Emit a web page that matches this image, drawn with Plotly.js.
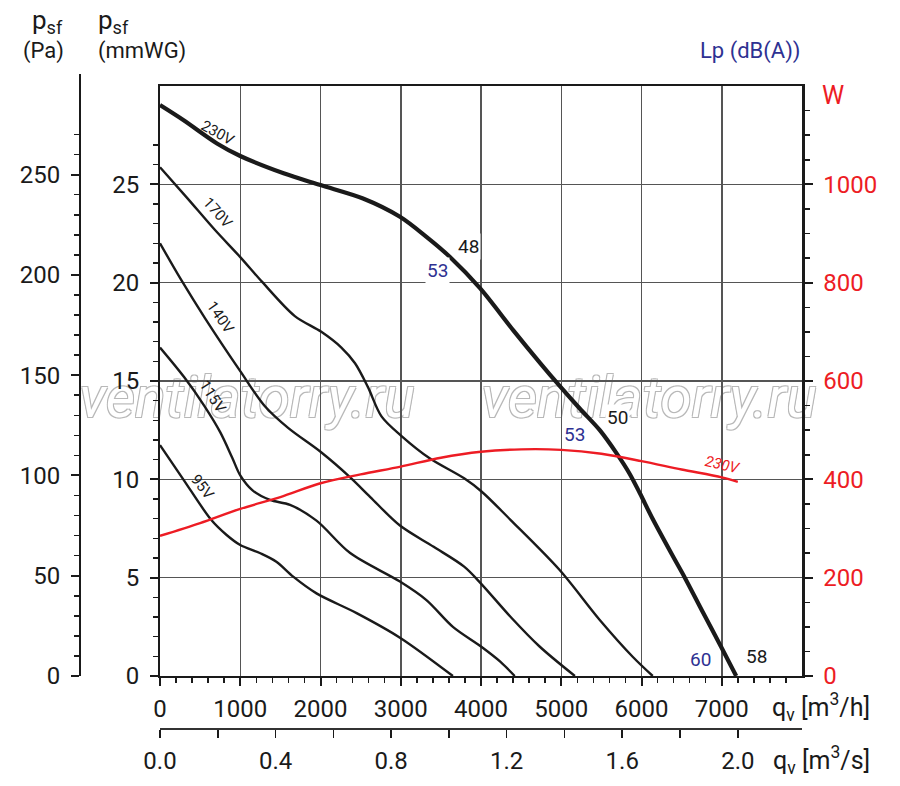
<!DOCTYPE html>
<html><head><meta charset="utf-8">
<script src="https://cdn.plot.ly/plotly-3.0.1.min.js"></script>
<style>html,body{margin:0;padding:0;background:#fff}</style>
</head><body><div id="chart" style="width:900px;height:786px"></div>
<script>
// ---- data (flow in m3/h, pressure in mmWG, power in W) ----
const flow230 = [0, 290, 710, 1000, 1540, 2000, 2530, 2990, 3320, 3610, 3990, 4400, 4740, 4980, 5230, 5480, 5690, 5850, 5980, 6140, 6390, 6540, 6770, 6990, 7180];
const p230    = [29.03, 28.27, 27.08, 26.44, 25.56, 24.96, 24.28, 23.35, 22.33, 21.32, 19.71, 17.59, 15.9, 14.75, 13.6, 12.5, 11.32, 10.3, 9.29, 7.98, 6.1, 5.0, 3.2, 1.5, 0];
const flow170 = [0, 340, 680, 1000, 1270, 1680, 2010, 2260, 2430, 2590, 2760, 3010, 3360, 3790, 4010, 4370, 4980, 5480, 5890, 6140];
const p170    = [25.87, 24.3, 22.7, 21.3, 20.05, 18.3, 17.5, 16.7, 15.9, 14.7, 13.2, 12.2, 11.07, 10.05, 9.37, 7.93, 5.39, 2.85, 0.98, 0];
const flow140 = [0, 270, 560, 1000, 1310, 1600, 2000, 2370, 2620, 2990, 3410, 3790, 4000, 4370, 4730, 5170];
const p140    = [22.0, 20.1, 18.2, 15.5, 13.7, 12.6, 11.4, 10.1, 9.1, 7.65, 6.57, 5.56, 4.7, 3.0, 1.5, 0];
const flow115 = [0, 300, 550, 750, 900, 1000, 1150, 1370, 1620, 1950, 2370, 2990, 3320, 3650, 4000, 4240, 4420];
const p115    = [16.7, 15.2, 13.75, 12.4, 11.1, 10.2, 9.45, 8.95, 8.7, 7.9, 6.25, 4.8, 3.86, 2.5, 1.5, 0.73, 0];
const flow95  = [0, 290, 640, 830, 1000, 1250, 1450, 1660, 1950, 2450, 2990, 3650];
const p95     = [11.74, 10.0, 7.93, 7.17, 6.66, 6.24, 5.81, 5.05, 4.2, 3.2, 1.95, 0];
const powerFlow = [0, 500, 1000, 1500, 2000, 2500, 3000, 3500, 4000, 4500, 5000, 5500, 6000, 6500, 7000, 7200];
const power230  = [285, 311, 340, 364, 392, 410, 426, 444, 456, 461, 460, 452, 437, 420, 404, 395];

// sound pressure labels Lp dB(A)
const lpText  = ['48', '53', '50', '53', '60', '58'];
const lpFlow  = [3850, 3464, 5695, 5171, 6729, 7439];
const lpPress = [21.86, 20.6, 13.12, 12.3, 0.86, 0.97];
const lpBlue  = [false, true, false, true, true, false];

// voltage labels
const voltText  = ['230V', '170V', '140V', '115V', '95V'];
const voltFlow  = [722, 722, 750, 660, 530];
const voltPress = [27.6, 23.54, 18.25, 14.19, 9.61];
const voltAngle = [29, 48, 55, 57, 52];

// tick labels
const xTicksH  = [0, 1000, 2000, 3000, 4000, 5000, 6000, 7000];
const xTicksS  = [0.0, 0.4, 0.8, 1.2, 1.6, 2.0];
const xMinorS  = [0.2, 0.6, 1.0, 1.4, 1.8];
const yTicksMm = [0, 5, 10, 15, 20, 25];
const yTicksPa = [0, 50, 100, 150, 200, 250];
const yTicksW  = [0, 200, 400, 600, 800, 1000];

const PA_PER_MM = 9.80665;

// ---- geometry ----
const L = 80, R = 802, T = 74, B = 729;
const px = p => (p - L) / (R - L);
const py = p => (B - p) / (B - T);
const xDom = [px(160), 1];
const yDom = [py(676), py(86)];
const paDom = [yDom[0], 1];
const paTop = 30 * PA_PER_MM * (paDom[1] - paDom[0]) / (yDom[1] - yDom[0]);

const RED = '#ed1c24', BLUE = '#2e3192', INK = '#1a1a1a';
const FONT = 'Roboto, "DejaVu Sans", sans-serif';

function range(a, b, s, skip) { const r = []; for (let v = a; v <= b + 1e-9; v += s) { const vv = Math.round(v * 1000) / 1000; if (!skip || !skip(vv)) r.push(vv); } return r; }

const curve = (x, y, w) => ({x, y, type: 'scatter', mode: 'lines', xaxis: 'x', yaxis: 'y',
  line: {color: INK, width: w, shape: 'spline', smoothing: 0.9}, hoverinfo: 'skip', showlegend: false});

const traces = [
  curve(flow95, p95, 2.4),
  curve(flow115, p115, 2.4),
  curve(flow140, p140, 2.4),
  curve(flow170, p170, 2.4),
  curve(flow230, p230, 4.2),
  {x: powerFlow, y: power230, type: 'scatter', mode: 'lines', xaxis: 'x', yaxis: 'y2',
   line: {color: RED, width: 2.4, shape: 'spline', smoothing: 0.9}, hoverinfo: 'skip', showlegend: false},
  // invisible copies to carry the secondary unit axes
  {x: flow230.map(f => f / 3600), y: p230, type: 'scatter', mode: 'lines', xaxis: 'x2', yaxis: 'y',
   line: {width: 0}, opacity: 0, hoverinfo: 'skip', showlegend: false},
  {x: flow230, y: p230.map(p => p * PA_PER_MM), type: 'scatter', mode: 'lines', xaxis: 'x4', yaxis: 'y3',
   line: {width: 0}, opacity: 0, hoverinfo: 'skip', showlegend: false}
];

const tickFont = {family: FONT, size: 24, color: INK};
const annotations = [];
function ann(xp, yp, text, opts) {
  annotations.push(Object.assign({xref: 'paper', yref: 'paper', x: px(xp), y: py(yp), text, showarrow: false,
    font: {family: FONT, size: 22, color: INK}, xanchor: 'center', yanchor: 'middle'}, opts || {}));
}

ann(47, 22, 'p<sub>sf</sub>', {font: {family: FONT, size: 26, color: INK}});
ann(43, 51, '(Pa)');
ann(96, 22, 'p<sub>sf</sub>', {xanchor: 'left', font: {family: FONT, size: 26, color: INK}});
ann(96, 51, '(mmWG)', {xanchor: 'left'});
ann(750, 51, 'Lp (dB(A))', {font: {family: FONT, size: 22, color: BLUE}});
ann(820, 96, 'W', {xanchor: 'left', font: {family: FONT, size: 25, color: RED}});
ann(821, 707, 'q<sub>v</sub> [m<sup>3</sup>/h]', {font: {family: FONT, size: 25, color: INK}});
ann(821, 760, 'q<sub>v</sub> [m<sup>3</sup>/s]', {font: {family: FONT, size: 25, color: INK}});

lpText.forEach((t, i) => annotations.push({xref: 'x', yref: 'y', x: lpFlow[i], y: lpPress[i], text: t, showarrow: false,
  bgcolor: '#ffffff', borderpad: 1, font: {family: FONT, size: 19, color: lpBlue[i] ? BLUE : INK}}));
voltText.forEach((t, i) => annotations.push({xref: 'x', yref: 'y', x: voltFlow[i], y: voltPress[i], text: t, showarrow: false,
  textangle: voltAngle[i], font: {family: FONT, size: 15, color: INK}}));
annotations.push({xref: 'x', yref: 'y2', x: powerFlow[14] + 20, y: power230[14] + 25, text: '230V', showarrow: false,
  textangle: 13, font: {family: FONT, size: 15, color: RED, style: 'italic'}});

// watermark: shapes between grid and traces, text as label
const wmShadow = '1px 1px 0 #b8b8b8, -1px -1px 0 #b8b8b8, 1px -1px 0 #b8b8b8, -1px 1px 0 #b8b8b8';
const wm = (x0, x1) => ({type: 'rect', xref: 'paper', yref: 'paper', x0: px(x0), x1: px(x1), y0: py(414), y1: py(372),
  layer: 'between', line: {width: 0}, fillcolor: 'rgba(0,0,0,0)',
  label: {text: 'ventilatorry.ru', textposition: 'middle center',
    font: {family: FONT, size: 57, style: 'italic', color: '#ffffff', shadow: wmShadow}}});
const shapes = [wm(70, 424), wm(472, 826)];

const minorX = range(200, 7800, 200, v => v % 1000 === 0);
const minorMm = range(1, 27, 1, v => v % 5 === 0);
const minorPa = range(10, 270, 10, v => v % 50 === 0);
const minorW = range(50, 1150, 50, v => v % 200 === 0);

const layout = {
  width: 900, height: 786,
  margin: {l: L, r: 900 - R, t: T, b: 786 - B, pad: 0},
  paper_bgcolor: '#ffffff', plot_bgcolor: 'rgba(0,0,0,0)',
  showlegend: false,
  xaxis: {domain: xDom, range: [0, 8000], anchor: 'y', tickmode: 'array', tickvals: xTicksH, ticktext: xTicksH.map(String),
    ticks: 'outside', ticklen: 8, tickwidth: 2, tickcolor: INK, showline: true, linewidth: 2, linecolor: INK, mirror: true,
    showgrid: true, gridcolor: '#555555', gridwidth: 1.5, zeroline: false, tickfont: tickFont, ticklabelstandoff: 2,
    minor: {tickmode: 'array', tickvals: minorX, ticks: 'outside', ticklen: 5, tickwidth: 1.5, tickcolor: INK, showgrid: false}},
  xaxis2: {overlaying: 'x', anchor: 'free', position: 0, side: 'bottom', domain: xDom, range: [0, 8000 / 3600],
    tickmode: 'array', tickvals: xTicksS, ticktext: xTicksS.map(v => v.toFixed(1)),
    ticks: 'outside', ticklen: 8, tickwidth: 1.5, tickcolor: INK, showline: true, linewidth: 2, linecolor: '#333',
    showgrid: false, zeroline: false, tickfont: tickFont, ticklabelstandoff: 2,
    minor: {tickmode: 'array', tickvals: xMinorS, ticks: 'outside', ticklen: 8, tickwidth: 1.5, tickcolor: INK, showgrid: false}},
  xaxis4: {domain: xDom, range: [0, 8000], anchor: 'y3', visible: false, showgrid: false, zeroline: false},
  yaxis: {domain: yDom, range: [0, 30], anchor: 'x', tickmode: 'array', tickvals: yTicksMm, ticktext: yTicksMm.map(String),
    ticks: 'outside', ticklen: 8, tickwidth: 2, tickcolor: INK, showline: true, linewidth: 2, linecolor: INK,
    showgrid: true, gridcolor: '#555555', gridwidth: 1.5, zeroline: false, tickfont: tickFont, ticklabelstandoff: 6,
    minor: {tickmode: 'array', tickvals: minorMm, ticks: 'outside', ticklen: 5, tickwidth: 1.5, tickcolor: INK, showgrid: false}},
  yaxis2: {overlaying: 'y', side: 'right', anchor: 'x', range: [0, 1200], tickmode: 'array', tickvals: yTicksW, ticktext: yTicksW.map(String),
    ticks: 'outside', ticklen: 8, tickwidth: 2, tickcolor: INK, showline: true, linewidth: 2.5, linecolor: INK,
    showgrid: false, zeroline: false, tickfont: {family: FONT, size: 24, color: RED}, ticklabelstandoff: 6,
    minor: {tickmode: 'array', tickvals: minorW, ticks: 'outside', ticklen: 5, tickwidth: 1.5, tickcolor: INK, showgrid: false}},
  yaxis3: {domain: paDom, range: [0, paTop], anchor: 'free', position: 0, side: 'left', tickmode: 'array', tickvals: yTicksPa, ticktext: yTicksPa.map(String),
    ticks: 'outside', ticklen: 8, tickwidth: 2, tickcolor: INK, showline: true, linewidth: 2, linecolor: INK,
    showgrid: false, zeroline: false, tickfont: tickFont, ticklabelstandoff: 6,
    minor: {tickmode: 'array', tickvals: minorPa, ticks: 'outside', ticklen: 5, tickwidth: 1.5, tickcolor: INK, showgrid: false}},
  shapes,
  annotations
};

Plotly.newPlot('chart', traces, layout, {staticPlot: true, displayModeBar: false});
</script>
</body></html>
